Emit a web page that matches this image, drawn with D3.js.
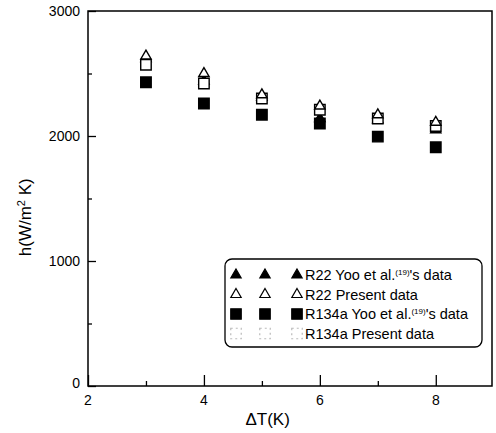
<!DOCTYPE html>
<html>
<head>
<meta charset="utf-8">
<script src="https://cdn.jsdelivr.net/npm/d3@7"></script>
<style>
  body { margin: 0; background: #fff; }
  text { font-family: "Liberation Sans", Arial, sans-serif; fill: #000; }
</style>
</head>
<body>
<div class="chart"></div>
<script>
// temperature differences (K)
var deltaT = [3, 4, 5, 6, 7, 8];

// heat transfer coefficient h (W/m2 K)
var r22Yoo = [2620, 2440, 2310, 2140, 2130, 2050];
var r22Present = [2640, 2500, 2330, 2240, 2170, 2110];
var r134aYoo = [2430, 2260, 2170, 2100, 1995, 1910];
var r134aPresent = [2570, 2420, 2300, 2210, 2140, 2080];

var xTicks = [2, 4, 6, 8];
var xMinor = [3, 5, 7];
var yTicks = [0, 1000, 2000, 3000];
var yMinor = [500, 1500, 2500];

var svgWidth = 496, svgHeight = 433;
var margin = { top: 11, right: 4, bottom: 47, left: 88 };
var width = svgWidth - margin.left - margin.right;
var height = svgHeight - margin.top - margin.bottom;

var svg = d3.select(".chart").append("svg")
  .attr("width", svgWidth)
  .attr("height", svgHeight);

var chartGroup = svg.append("g")
  .attr("transform", `translate(${margin.left}, ${margin.top})`);

var xScale = d3.scaleLinear().domain([2, 8.97]).range([0, width]);
var yScale = d3.scaleLinear().domain([0, 3000]).range([height, 0]);

// frame
chartGroup.append("rect")
  .attr("width", width)
  .attr("height", height)
  .attr("fill", "none")
  .attr("stroke", "#000")
  .attr("stroke-width", 1.5);

// axes: ticks point inward
var xAxis = d3.axisTop(xScale).tickValues(xTicks).tickSize(11).tickFormat("");
var xAxisMinor = d3.axisTop(xScale).tickValues(xMinor).tickSize(5).tickFormat("");
var yAxis = d3.axisRight(yScale).tickValues(yTicks).tickSize(8).tickFormat("");
var yAxisMinor = d3.axisRight(yScale).tickValues(yMinor).tickSize(4).tickFormat("");

[xAxis, xAxisMinor].forEach(function(ax) {
  chartGroup.append("g").attr("transform", `translate(0, ${height})`).call(ax);
});
[yAxis, yAxisMinor].forEach(function(ax) {
  chartGroup.append("g").call(ax);
});
chartGroup.selectAll(".domain").remove();
chartGroup.selectAll(".tick line").attr("stroke", "#000").attr("stroke-width", 1.3);

// tick labels
chartGroup.append("g").selectAll("text")
  .data(xTicks)
  .enter()
  .append("text")
  .attr("x", d => xScale(d))
  .attr("y", height + 19)
  .attr("text-anchor", "middle")
  .style("font-size", "14px")
  .text(d => d);

chartGroup.append("g").selectAll("text")
  .data(yTicks)
  .enter()
  .append("text")
  .attr("x", -8)
  .attr("y", d => yScale(d) + (d === 0 ? 2 : 5))
  .attr("text-anchor", "end")
  .style("font-size", "14px")
  .text(d => d);

// axis titles
chartGroup.append("text")
  .attr("text-anchor", "middle")
  .attr("x", xScale(5.1))
  .attr("y", height + 39)
  .style("font-size", "17px")
  .text("\u0394T(K)");

var yTitle = chartGroup.append("text")
  .attr("text-anchor", "middle")
  .attr("transform", "translate(" + (-57) + "," + (yScale(1350)) + ")rotate(-90)")
  .style("font-size", "17px");
yTitle.append("tspan").text("h(W/m");
yTitle.append("tspan").attr("dy", -6).style("font-size", "11px").text("2");
yTitle.append("tspan").attr("dy", 6).text(" K)");

// markers
var tri = d3.symbol().type(d3.symbolTriangle).size(46);
var sq = d3.symbol().type(d3.symbolSquare).size(110);

var series = [
  { values: r134aYoo, sym: sq, fill: "#000", stroke: "#000" },
  { values: r22Yoo, sym: tri, fill: "#000", stroke: "#000" },
  { values: r134aPresent, sym: sq, fill: "#fff", stroke: "#000" },
  { values: r22Present, sym: tri, fill: "#fff", stroke: "#000" }
];

series.forEach(function(s) {
  chartGroup.append("g").selectAll("path")
    .data(deltaT)
    .enter()
    .append("path")
    .attr("d", s.sym)
    .attr("transform", (d, i) => `translate(${xScale(d)}, ${yScale(s.values[i])})`)
    .attr("fill", s.fill)
    .attr("stroke", s.stroke)
    .attr("stroke-width", 1.4);
});

// legend
var legend = svg.append("g").attr("transform", "translate(225, 259)");
legend.append("rect")
  .attr("width", 257)
  .attr("height", 88)
  .attr("rx", 7)
  .attr("fill", "#fff")
  .attr("stroke", "#000")
  .attr("stroke-width", 1.3);

var legendItems = [
  { sym: tri, fill: "#000", stroke: "#000", label: "R22 Yoo et al.", sup: "(19)", rest: "'s data" },
  { sym: tri, fill: "#fff", stroke: "#000", label: "R22 Present data" },
  { sym: sq, fill: "#000", stroke: "#000", label: "R134a Yoo et al.", sup: "(19)", rest: "'s data" },
  { sym: sq, fill: "#fff", stroke: "#bbb", label: "R134a Present data", dash: "2,3" }
];
var symX = [11, 40, 72];

legendItems.forEach(function(item, i) {
  var y = 16 + i * 19.5;
  legend.append("g").selectAll("path")
    .data(symX)
    .enter()
    .append("path")
    .attr("d", item.sym)
    .attr("transform", d => `translate(${d}, ${y})`)
    .attr("fill", item.fill)
    .attr("stroke", item.stroke)
    .attr("stroke-width", 1.2)
    .attr("stroke-dasharray", item.dash || null);

  var t = legend.append("text")
    .attr("x", 80)
    .attr("y", y + 5)
    .style("font-size", "14.5px");
  t.append("tspan").text(item.label);
  if (item.sup) {
    t.append("tspan").attr("dy", -5).style("font-size", "8px").text(item.sup);
    t.append("tspan").attr("dy", 5).text(item.rest);
  }
});
</script>
</body>
</html>
